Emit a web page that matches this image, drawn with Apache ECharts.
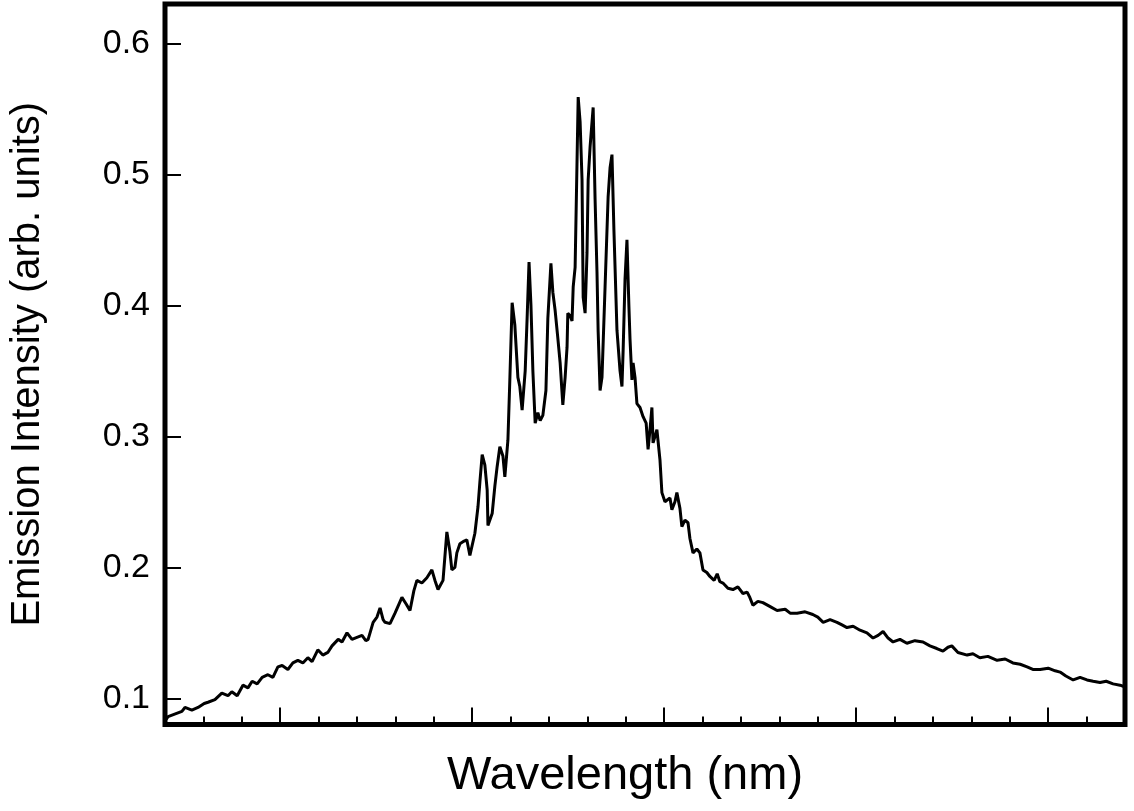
<!DOCTYPE html>
<html>
<head>
<meta charset="utf-8">
<script src="https://cdn.jsdelivr.net/npm/echarts@6/dist/echarts.min.js"></script>
<style>
  html, body { margin: 0; padding: 0; background: #fff; }
  #chart { width: 1134px; height: 811px; }
</style>
</head>
<body>
<div id="chart"></div>
<script>
// wavelength positions (axis has no labels, 0..25 = full width, one minor tick per unit)
var wavelength = [
  0.03, 0.08, 0.44, 0.52, 0.70, 0.86, 1.02, 1.12, 1.30, 1.48, 1.64, 1.74, 1.88, 2.03, 2.16, 2.27, 2.40, 2.53, 2.68, 2.81,
  2.94, 3.05, 3.20, 3.33, 3.46, 3.59, 3.72, 3.83, 3.98, 4.11, 4.24, 4.35, 4.51, 4.61, 4.74, 4.87, 4.95, 5.13, 5.23, 5.29,
  5.42, 5.52, 5.60, 5.68, 5.73, 5.86, 5.99, 6.17, 6.28, 6.38, 6.48, 6.56, 6.69, 6.82, 6.95, 7.03, 7.11, 7.24, 7.34, 7.42,
  7.47, 7.55, 7.60, 7.68, 7.79, 7.86, 7.94, 8.07, 8.15, 8.20, 8.26, 8.33, 8.39, 8.41, 8.52, 8.59, 8.65, 8.72, 8.80, 8.85,
  8.93, 8.98, 9.04, 9.11, 9.19, 9.24, 9.30, 9.38, 9.43, 9.48, 9.53, 9.58, 9.64, 9.71, 9.77, 9.84, 9.92, 9.97, 10.05, 10.10,
  10.16, 10.23, 10.29, 10.36, 10.42, 10.47, 10.49, 10.55, 10.60, 10.63, 10.68, 10.73, 10.76, 10.81, 10.86, 10.89, 10.94, 10.99, 11.02, 11.07,
  11.15, 11.20, 11.25, 11.28, 11.33, 11.38, 11.46, 11.54, 11.59, 11.64, 11.69, 11.77, 11.85, 11.90, 11.93, 11.98, 12.03, 12.08, 12.11, 12.16,
  12.19, 12.24, 12.29, 12.37, 12.45, 12.53, 12.58, 12.63, 12.68, 12.71, 12.76, 12.81, 12.89, 12.94, 13.02, 13.07, 13.15, 13.20, 13.28, 13.33,
  13.41, 13.46, 13.54, 13.62, 13.67, 13.75, 13.85, 13.93, 14.01, 14.11, 14.19, 14.30, 14.38, 14.45, 14.53, 14.66, 14.79, 14.92, 15.05, 15.16,
  15.23, 15.31, 15.44, 15.57, 15.76, 15.94, 16.15, 16.28, 16.46, 16.67, 16.87, 17.00, 17.14, 17.32, 17.50, 17.63, 17.76, 17.92, 18.10, 18.28,
  18.44, 18.57, 18.70, 18.83, 18.96, 19.14, 19.32, 19.53, 19.74, 19.92, 20.10, 20.26, 20.39, 20.49, 20.65, 20.89, 21.04, 21.22, 21.43, 21.67,
  21.88, 22.08, 22.27, 22.45, 22.60, 22.79, 23.00, 23.18, 23.31, 23.46, 23.65, 23.83, 24.01, 24.17, 24.35, 24.51, 24.69, 24.87, 24.97
]
var intensity = [
  0.084, 0.086, 0.090, 0.093, 0.091, 0.093, 0.096, 0.097, 0.099, 0.104, 0.102, 0.105, 0.102, 0.110, 0.108, 0.113, 0.111, 0.116, 0.118, 0.116,
  0.124, 0.125, 0.122, 0.127, 0.129, 0.127, 0.131, 0.128, 0.137, 0.133, 0.135, 0.140, 0.145, 0.143, 0.150, 0.145, 0.146, 0.148, 0.144, 0.145,
  0.158, 0.162, 0.169, 0.160, 0.158, 0.157, 0.165, 0.177, 0.172, 0.167, 0.182, 0.190, 0.188, 0.192, 0.198, 0.190, 0.183, 0.190, 0.227, 0.212,
  0.198, 0.200, 0.211, 0.218, 0.220, 0.221, 0.209, 0.226, 0.246, 0.265, 0.286, 0.278, 0.259, 0.232, 0.241, 0.262, 0.277, 0.292, 0.285, 0.269,
  0.297, 0.343, 0.402, 0.385, 0.345, 0.338, 0.320, 0.350, 0.390, 0.433, 0.400, 0.350, 0.310, 0.318, 0.312, 0.316, 0.335, 0.390, 0.432, 0.410,
  0.396, 0.375, 0.356, 0.324, 0.345, 0.368, 0.394, 0.392, 0.388, 0.414, 0.429, 0.510, 0.559, 0.540, 0.496, 0.406, 0.394, 0.440, 0.496, 0.521,
  0.551, 0.481, 0.425, 0.380, 0.335, 0.345, 0.414, 0.483, 0.505, 0.515, 0.458, 0.381, 0.350, 0.338, 0.365, 0.420, 0.450, 0.400, 0.374, 0.343,
  0.356, 0.345, 0.325, 0.322, 0.315, 0.310, 0.290, 0.305, 0.322, 0.295, 0.300, 0.305, 0.282, 0.257, 0.250, 0.249, 0.253, 0.244, 0.250, 0.257,
  0.245, 0.231, 0.236, 0.234, 0.222, 0.211, 0.214, 0.211, 0.198, 0.196, 0.193, 0.190, 0.195, 0.189, 0.188, 0.184, 0.183, 0.185, 0.180, 0.181,
  0.177, 0.171, 0.174, 0.173, 0.170, 0.167, 0.168, 0.165, 0.165, 0.166, 0.164, 0.162, 0.158, 0.160, 0.158, 0.156, 0.154, 0.155, 0.152, 0.150,
  0.146, 0.148, 0.151, 0.146, 0.143, 0.145, 0.142, 0.144, 0.143, 0.140, 0.138, 0.136, 0.139, 0.140, 0.135, 0.133, 0.134, 0.131, 0.132, 0.129,
  0.130, 0.127, 0.126, 0.124, 0.122, 0.122, 0.123, 0.121, 0.120, 0.117, 0.114, 0.116, 0.114, 0.113, 0.112, 0.113, 0.111, 0.110, 0.109
]
var yTicks = [0.1, 0.2, 0.3, 0.4, 0.5, 0.6]
var xLongTicks = [3, 8, 13, 18, 23]

var seriesData = []
for (var i = 0; i < wavelength.length; i++) {
  seriesData.push([wavelength[i], intensity[i]])
}

var font = '"Liberation Sans", Arial, sans-serif'

var option = {
  backgroundColor: '#fff',
  animation: false,
  grid: {
    left: 165,
    right: 9,
    top: 4,
    bottom: 86.5,
    show: true,
    borderColor: '#000',
    borderWidth: 5
  },
  xAxis: [
    {
      type: 'value',
      min: 0,
      max: 25,
      interval: 1,
      name: 'Wavelength (nm)',
      nameLocation: 'middle',
      nameGap: 28,
      nameTextStyle: { fontSize: 47, fontFamily: font, color: '#000', padding: [0, 40, 0, 0] },
      axisLine: { show: false },
      axisTick: { show: true, inside: true, length: 8, lineStyle: { color: '#000', width: 2 } },
      axisLabel: { show: false },
      splitLine: { show: false }
    },
    {
      type: 'value',
      position: 'bottom',
      min: 0,
      max: 25,
      axisLine: { show: false },
      axisTick: { show: true, inside: true, length: 17, customValues: xLongTicks, lineStyle: { color: '#000', width: 2 } },
      axisLabel: { show: false },
      splitLine: { show: false }
    }
  ],
  yAxis: {
    type: 'value',
    min: 0.08,
    max: 0.63,
    name: 'Emission Intensity (arb. units)',
    nameLocation: 'middle',
    nameGap: 117,
    nameTextStyle: { fontSize: 40, fontFamily: font, color: '#000' },
    axisLine: { show: false },
    axisTick: { show: true, inside: true, length: 16, customValues: yTicks, lineStyle: { color: '#000', width: 2 } },
    axisLabel: {
      customValues: yTicks,
      margin: 15,
      fontSize: 34,
      fontFamily: font,
      color: '#000',
      formatter: function (v) { return v.toFixed(1) }
    },
    splitLine: { show: false }
  },
  series: [
    {
      type: 'line',
      data: seriesData,
      showSymbol: false,
      symbol: 'none',
      lineStyle: { color: '#000', width: 3 }
    }
  ]
}

var myChart = echarts.init(document.getElementById('chart'))
myChart.setOption(option)
</script>
</body>
</html>
